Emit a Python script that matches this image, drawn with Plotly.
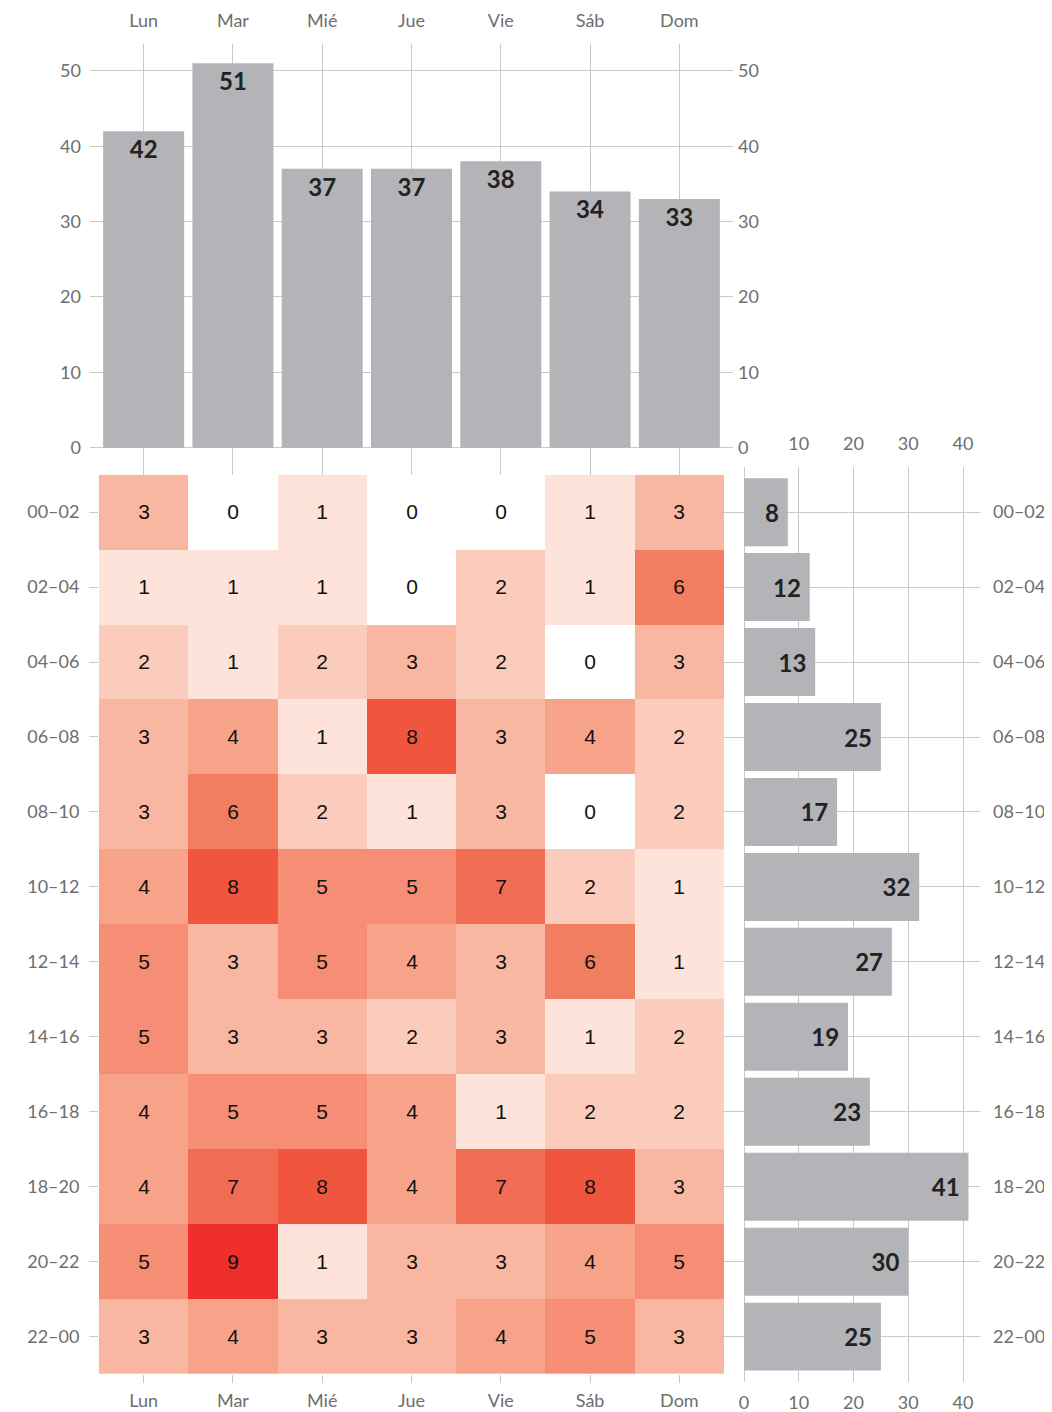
import plotly.graph_objects as go

# ---------------- data ----------------
days = ["Lun", "Mar", "Mié", "Jue", "Vie", "Sáb", "Dom"]
slots = ["00–02", "02–04", "04–06", "06–08", "08–10", "10–12",
         "12–14", "14–16", "16–18", "18–20", "20–22", "22–00"]
counts = [
    [3, 0, 1, 0, 0, 1, 3],
    [1, 1, 1, 0, 2, 1, 6],
    [2, 1, 2, 3, 2, 0, 3],
    [3, 4, 1, 8, 3, 4, 2],
    [3, 6, 2, 1, 3, 0, 2],
    [4, 8, 5, 5, 7, 2, 1],
    [5, 3, 5, 4, 3, 6, 1],
    [5, 3, 3, 2, 3, 1, 2],
    [4, 5, 5, 4, 1, 2, 2],
    [4, 7, 8, 4, 7, 8, 3],
    [5, 9, 1, 3, 3, 4, 5],
    [3, 4, 3, 3, 4, 5, 3],
]
day_totals = [42, 51, 37, 37, 38, 34, 33]
slot_totals = [8, 12, 13, 25, 17, 32, 27, 19, 23, 41, 30, 25]
top_ticks = [0, 10, 20, 30, 40, 50]
right_ticks = [0, 10, 20, 30, 40]

# ---------------- style ----------------
OFFX, OFFY = 8, 7  # page body margin compensation
W, H = 1052 - OFFX, 1412 - OFFY
BAR = "#b3b3b8"
GRID = "#c9c9cc"
TICKC = "#6e6e6e"
FONT = "Lato, 'Open Sans', sans-serif"
NUMFONT = "'Liberation Sans', Arial, sans-serif"


def xd(a, b):
    return [(a - OFFX) / W, (b - OFFX) / W]


def yd(top, bottom):
    return [1 - (bottom - OFFY) / H, 1 - (top - OFFY) / H]


colorscale = [
    [0 / 9, "#ffffff"],
    [1 / 9, "#fde3d9"],
    [2 / 9, "#fbcbbb"],
    [3 / 9, "#f9b7a1"],
    [4 / 9, "#f7a389"],
    [5 / 9, "#f58e74"],
    [6 / 9, "#f27e62"],
    [7 / 9, "#f06c52"],
    [8 / 9, "#f0553e"],
    [9 / 9, "#ee2f2e"],
]

fig = go.Figure()

# top bars
fig.add_trace(go.Bar(
    x=days, y=day_totals, xaxis="x", yaxis="y",
    marker=dict(color=BAR, line=dict(width=0)),
    text=day_totals, textposition="inside", insidetextanchor="end",
    textangle=0, textfont=dict(family=FONT, size=24, color="#222222", weight="bold"),
    hoverinfo="skip", cliponaxis=False,
))
# invisible companion so the right-hand axis of the top chart is drawn
fig.add_trace(go.Scatter(
    x=days, y=day_totals, xaxis="x", yaxis="y2", mode="markers",
    marker=dict(opacity=0), hoverinfo="skip",
))

# heatmap
fig.add_trace(go.Heatmap(
    x=days, y=slots, z=counts, xaxis="x2", yaxis="y3",
    colorscale=colorscale, zmin=0, zmax=9, showscale=False,
    texttemplate="%{z}", textfont=dict(family=NUMFONT, size=21, color="#111111"),
    hoverinfo="skip", xgap=0, ygap=0,
))

# right bars
fig.add_trace(go.Bar(
    x=slot_totals, y=slots, orientation="h", xaxis="x3", yaxis="y4",
    marker=dict(color=BAR, line=dict(width=0)),
    text=slot_totals, texttemplate="%{x}\u00a0", textposition="inside",
    insidetextanchor="end",
    textangle=0, textfont=dict(family=FONT, size=24, color="#222222", weight="bold"),
    hoverinfo="skip", cliponaxis=False,
))
# invisible companion so the top axis of the right chart is drawn
fig.add_trace(go.Scatter(
    x=slot_totals, y=slots, xaxis="x4", yaxis="y4", mode="markers",
    marker=dict(opacity=0), hoverinfo="skip",
))

colw = (724 - 99) / 7
padc = (733 - 724) / colw
unit_top = (448 - 70) / 50
roww = (1377 - 475) / 12
padr = 8 / roww
unit_r = (963 - 744) / 40

tickfont = dict(family=FONT, size=18, color=TICKC)
yr_top = [-27 / unit_top, 50 + 27 / unit_top]
xr_right = [-20 / unit_r, (980 - 744) / unit_r]

fig.update_layout(
    width=W, height=H,
    margin=dict(l=0, r=0, t=0, b=0),
    paper_bgcolor="white", plot_bgcolor="rgba(0,0,0,0)",
    showlegend=False, bargap=0.093,
    font=dict(family=FONT),
    # top bar chart
    xaxis=dict(domain=xd(90, 733), anchor="y", side="top",
               range=[-0.5 - padc, 6.5 + padc], type="category",
               categoryorder="array", categoryarray=days,
               showgrid=True, gridcolor=GRID, gridwidth=1.3, ticks="",
               tickfont=tickfont, ticklabelstandoff=12, zeroline=False,
               showline=False),
    yaxis=dict(domain=yd(43, 475), anchor="x", range=yr_top,
               tickvals=top_ticks, showgrid=True, gridcolor=GRID, gridwidth=1.3,
               ticks="", tickfont=tickfont, ticklabelstandoff=8,
               zeroline=False, showline=False),
    yaxis2=dict(overlaying="y", anchor="x", side="right", range=yr_top,
                tickvals=top_ticks, showgrid=False, ticks="",
                tickfont=tickfont, ticklabelstandoff=4,
                zeroline=False, showline=False),
    # heatmap
    xaxis2=dict(domain=xd(99, 724), anchor="y3", side="bottom",
                range=[-0.5, 6.5], type="category",
                categoryorder="array", categoryarray=days,
                showgrid=False, ticks="outside", ticklen=8, tickcolor=GRID,
                tickwidth=1.3, tickfont=tickfont, ticklabelstandoff=2,
                zeroline=False, showline=False),
    yaxis3=dict(domain=yd(475, 1377), anchor="x2",
                range=[11.5, -0.5], type="category",
                categoryorder="array", categoryarray=slots,
                showgrid=False, ticks="outside", ticklen=9, tickcolor=GRID,
                tickwidth=1.3, tickfont=tickfont, ticklabelstandoff=6,
                zeroline=False, showline=False),
    # right bar chart
    xaxis3=dict(domain=xd(724, 980), anchor="y4", side="bottom", range=xr_right,
                tickvals=right_ticks, showgrid=True, gridcolor=GRID, gridwidth=1.3,
                ticks="", tickfont=tickfont, ticklabelstandoff=8,
                zeroline=False, showline=False),
    xaxis4=dict(overlaying="x3", anchor="y4", side="top", range=xr_right,
                tickvals=right_ticks[1:], showgrid=False, ticks="",
                tickfont=tickfont, ticklabelstandoff=12,
                zeroline=False, showline=False),
    yaxis4=dict(domain=yd(467, 1385), anchor="x3", side="right",
                range=[11.5 + padr, -0.5 - padr], type="category",
                categoryorder="array", categoryarray=slots,
                showgrid=True, gridcolor=GRID, gridwidth=1.3, ticks="",
                tickfont=tickfont, ticklabelstandoff=12,
                zeroline=False, showline=False),
)

fig.write_html("out.html")
